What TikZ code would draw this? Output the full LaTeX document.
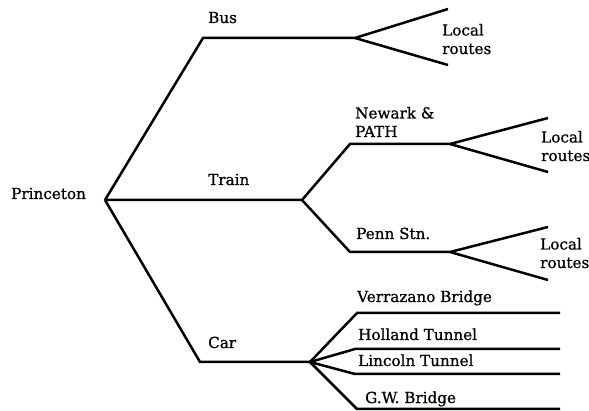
\documentclass[tikz,border=0pt]{standalone}
\usepackage{fontspec}
\setmainfont{DejaVu Serif}[FakeBold=0.8]
\begin{document}
\begin{tikzpicture}[x=1pt,y=-1pt,
  br/.style={line width=2.5pt, line join=miter, line cap=butt},
  lbl/.style={font=\fontsize{15.2}{18.5}\selectfont, inner sep=0pt, anchor=base west, align=left}]
\useasboundingbox (0,0) rectangle (589,411);
% junctions
\coordinate (root) at (105,200);
\coordinate (busA) at (203,38);
\coordinate (busF) at (355,38);
\coordinate (busU) at (448,9);
\coordinate (busL) at (448,65);
\coordinate (trF) at (302,200);
\coordinate (nwA) at (350,144);
\coordinate (nwF) at (450,144);
\coordinate (nwU) at (548,118);
\coordinate (nwL) at (548,172);
\coordinate (pnA) at (350,252);
\coordinate (pnF) at (450,252);
\coordinate (pnU) at (548,227);
\coordinate (pnL) at (548,280);
\coordinate (carA) at (200,362);
\coordinate (carF) at (310,362);
\coordinate (vzA) at (357,313);
\coordinate (vzE) at (560,313);
\coordinate (hoA) at (355,349);
\coordinate (hoE) at (560,349);
\coordinate (liA) at (355,374);
\coordinate (liE) at (560,374);
\coordinate (gwA) at (357,409);
\coordinate (gwE) at (560,409);
% connectors
\draw[br] (root) -- (busA) -- (busF) -- (busU);
\draw[br] (busF) -- (busL);
\draw[br] (root) -- (trF) -- (nwA) -- (nwF) -- (nwU);
\draw[br] (nwF) -- (nwL);
\draw[br] (trF) -- (pnA) -- (pnF) -- (pnU);
\draw[br] (pnF) -- (pnL);
\draw[br] (root) -- (carA) -- (carF);
\draw[br] (carF) -- (vzA) -- (vzE);
\draw[br] (carF) -- (hoA) -- (hoE);
\draw[br] (carF) -- (liA) -- (liE);
\draw[br] (carF) -- (gwA) -- (gwE);
% labels
\node[lbl] (princeton) at (11,199) {Princeton};
\node[lbl] (bus) at (208,23) {Bus};
\node[lbl] (train) at (208,185) {Train};
\node[lbl] (car) at (208,348) {Car};
\node[lbl] (newark) at (355,137) {Newark \&\\PATH};
\node[lbl] (penn) at (356,239) {Penn Stn.};
\node[lbl] (loc1) at (442,54) {Local\\routes};
\node[lbl] (loc2) at (541,161) {Local\\routes};
\node[lbl] (loc3) at (540,268) {Local\\routes};
\node[lbl] (vz) at (357,302) {Verrazano Bridge};
\node[lbl] (ho) at (358,340) {Holland Tunnel};
\node[lbl] (li) at (358,366) {Lincoln Tunnel};
\node[lbl] (gw) at (365,403) {G.W. Bridge};
\end{tikzpicture}
\end{document}
